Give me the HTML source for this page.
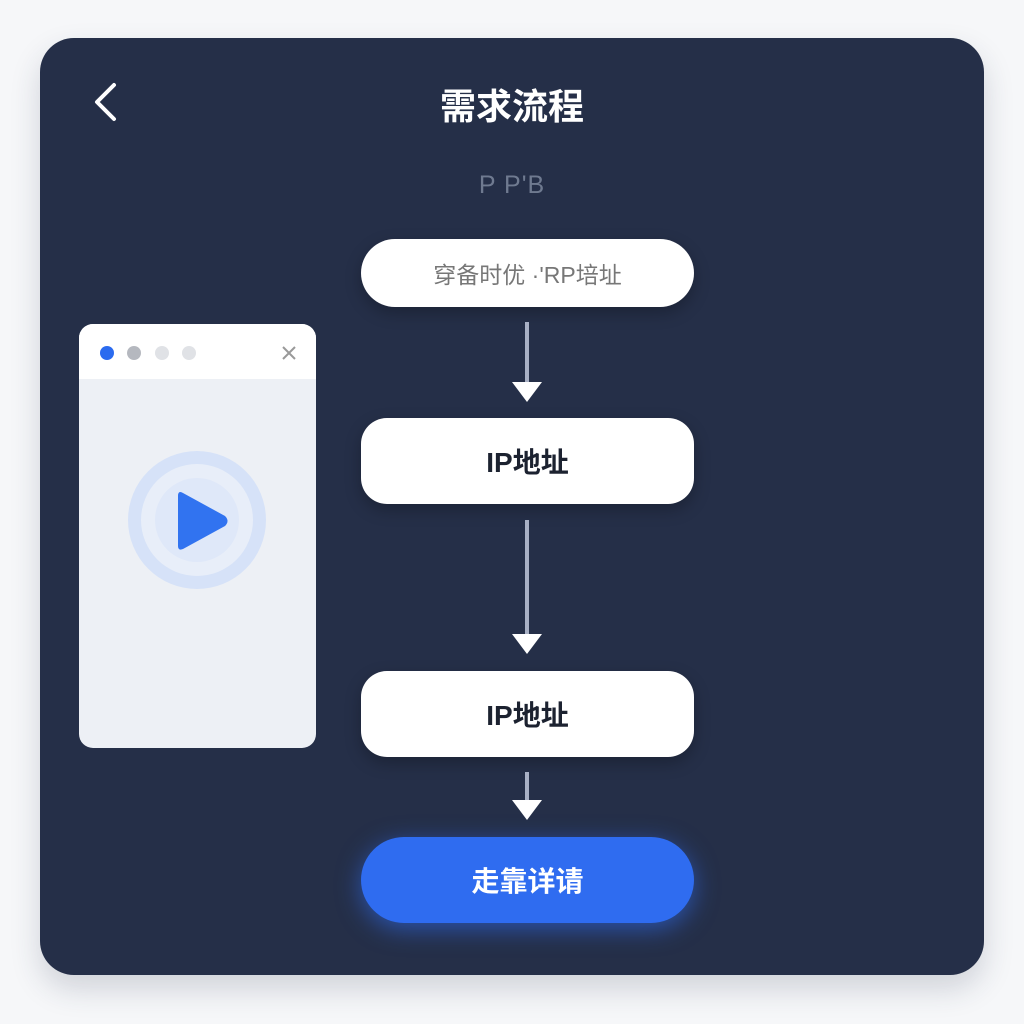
<!DOCTYPE html>
<html><head><meta charset="utf-8"><style>
body{margin:0;width:1024px;height:1024px;background:#f6f7f9;position:relative;overflow:hidden;font-family:"Liberation Sans","Noto Sans CJK SC",sans-serif}
.card{position:absolute;left:40px;top:38px;width:944px;height:937px;background:#252f48;border-radius:34px;box-shadow:0 14px 30px rgba(40,50,80,.18)}
.t{position:absolute;color:#fff;font-weight:bold;font-size:36px;left:0;width:1024px;text-align:center;top:78px}
.node{position:absolute;left:361px;width:333px;background:#fff;border-radius:26px;display:flex;align-items:center;justify-content:center;color:#1c2230;font-weight:600;font-size:28px;box-shadow:0 6px 16px rgba(0,0,0,.25)}
.line{position:absolute;left:525px;width:4px;background:#a8b0c4}
.ah{position:absolute;left:512px;width:0;height:0;border-left:15px solid transparent;border-right:15px solid transparent;border-top:20px solid #fff}
</style></head><body>
<div class="card"></div>
<svg style="position:absolute;left:90px;top:82px" width="32" height="42"><polyline points="24,3 7,20 24,37" fill="none" stroke="#fff" stroke-width="4" stroke-linecap="round" stroke-linejoin="round"/></svg>
<div class="t">需求流程</div>
<div style="position:absolute;left:0;width:1024px;text-align:center;top:171px;color:#6f7a90;font-size:25px;letter-spacing:1px">P P'B</div>
<div class="node" style="top:239px;height:68px;border-radius:34px;font-weight:normal;font-size:23px;color:#777">穿备时优 ·'RP培址</div>
<div class="line" style="top:322px;height:62px"></div><div class="ah" style="top:382px"></div>
<div class="node" style="top:418px;height:86px">IP地址</div>
<div class="line" style="top:520px;height:116px"></div><div class="ah" style="top:634px"></div>
<div class="node" style="top:671px;height:86px">IP地址</div>
<div class="line" style="top:772px;height:30px"></div><div class="ah" style="top:800px"></div>
<div class="node" style="top:837px;height:86px;border-radius:43px;background:#2f6cf0;color:#fff;box-shadow:0 6px 24px rgba(47,108,240,.6)">走靠详请</div>
<div style="position:absolute;left:79px;top:324px;width:237px;height:424px;border-radius:14px;background:#edf0f5;overflow:hidden">
<div style="height:55px;background:#fff"></div>
<div style="position:absolute;left:21px;top:22px;width:14px;height:14px;border-radius:50%;background:#2b6bef"></div>
<div style="position:absolute;left:48px;top:22px;width:14px;height:14px;border-radius:50%;background:#b5b8bf"></div>
<div style="position:absolute;left:76px;top:22px;width:14px;height:14px;border-radius:50%;background:#e0e2e6"></div>
<div style="position:absolute;left:103px;top:22px;width:14px;height:14px;border-radius:50%;background:#e0e2e6"></div>
<svg style="position:absolute;left:202px;top:21px" width="16" height="16"><path d="M2 2L14 14M14 2L2 14" stroke="#999" stroke-width="2"/></svg>
<div style="position:absolute;left:49px;top:127px;width:138px;height:138px;border-radius:50%;background:#d6e2f8"></div>
<div style="position:absolute;left:62px;top:140px;width:112px;height:112px;border-radius:50%;background:#e8eef9"></div>
<div style="position:absolute;left:76px;top:154px;width:84px;height:84px;border-radius:50%;background:#dfe8f9"></div>
<svg style="position:absolute;left:94px;top:164px" width="60" height="66"><path d="M5 8Q5 2 10 5L52 28Q57 33 52 38L10 61Q5 63 5 58Z" fill="#3173f0"/></svg>
</div>
</body></html>
